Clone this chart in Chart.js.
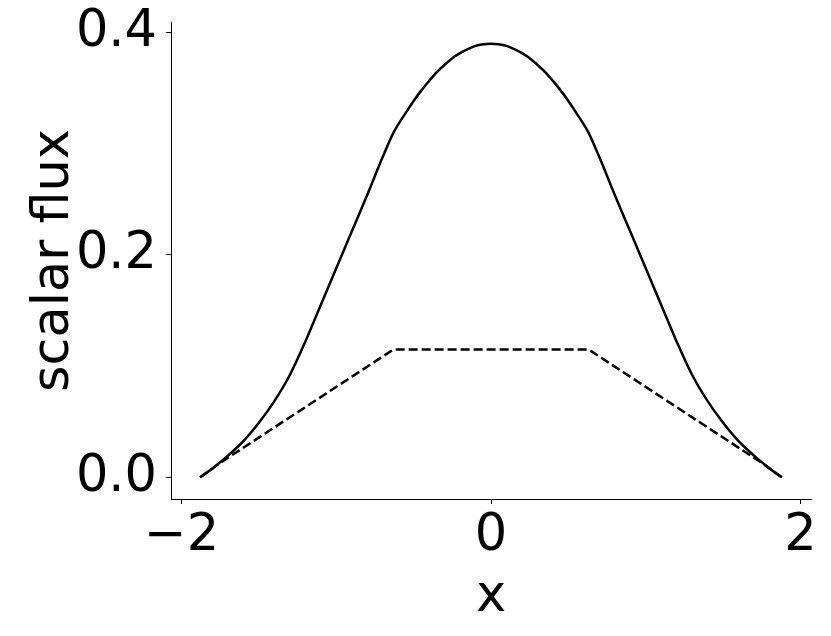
<!DOCTYPE html>
<html>
<head>
<meta charset="utf-8">
<script src="https://cdn.jsdelivr.net/npm/chart.js@4"></script>
<style>
  html, body { margin: 0; padding: 0; background: #fff; }
  #wrap { width: 831px; height: 636px; }
</style>
</head>
<body>
<div id="wrap"><canvas id="myChart" width="831" height="636"></canvas></div>
<script>
// values
var xValues = [-1.88, -1.8, -1.7, -1.6, -1.5, -1.4, -1.3, -1.2, -1.1, -1.0, -0.9, -0.8, -0.7, -0.63,
               -0.55, -0.5, -0.45, -0.4, -0.35, -0.3, -0.25, -0.2, -0.15, -0.1, -0.05, 0,
               0.05, 0.1, 0.15, 0.2, 0.25, 0.3, 0.35, 0.4, 0.45, 0.5, 0.55,
               0.63, 0.7, 0.8, 0.9, 1.0, 1.1, 1.2, 1.3, 1.4, 1.5, 1.6, 1.7, 1.8, 1.88]
var solidFlux = [0, 0.008, 0.0195, 0.0325, 0.049, 0.0685, 0.092, 0.122, 0.155, 0.188, 0.221, 0.254, 0.288, 0.310,
                 0.328, 0.3385, 0.348, 0.3565, 0.3645, 0.371, 0.377, 0.3815, 0.385, 0.388, 0.3895, 0.390,
                 0.3895, 0.388, 0.385, 0.3815, 0.377, 0.371, 0.3645, 0.3565, 0.348, 0.3385, 0.328,
                 0.310, 0.288, 0.254, 0.221, 0.188, 0.155, 0.122, 0.092, 0.0685, 0.049, 0.0325, 0.0195, 0.008, 0]

var dashX = [-1.88, -1.75, -0.63, 0, 0.63, 1.75, 1.88]
var dashFlux = [0, 0.013, 0.115, 0.115, 0.115, 0.013, 0]

var xTicks = [-2, 0, 2]
var yTicks = [0, 0.2, 0.4]

function toPoints(xs, ys) {
  var pts = []
  for (var i = 0; i < xs.length; i++) pts.push({x: xs[i], y: ys[i]})
  return pts
}

// keep the label overhang from pushing the plot area around
function noPad(s) {
  s.paddingTop = 0
  s.paddingBottom = 0
  s.paddingLeft = 0
  s.paddingRight = 0
}

var font = {family: 'DejaVu Sans', size: 51}

var ctx = document.getElementById('myChart').getContext('2d');
var chart = new Chart(ctx, {
    type: 'line',
    data: {
        datasets: [{
            data: toPoints(xValues, solidFlux),
            borderColor: '#000',
            borderWidth: 2.5,
            pointRadius: 0,
            cubicInterpolationMode: 'monotone',
            fill: false
        }, {
            data: toPoints(dashX, dashFlux),
            borderColor: '#000',
            borderWidth: 2.5,
            borderDash: [9, 4],
            pointRadius: 0,
            tension: 0,
            fill: false
        }]
    },
    options: {
        responsive: false,
        animation: false,
        events: [],
        layout: {padding: {top: 22, right: 20, left: 0, bottom: 0}},
        plugins: {legend: {display: false}, tooltip: {enabled: false}},
        scales: {
            x: {
                type: 'linear',
                min: -2.068,
                max: 2.068,
                afterBuildTicks: function (s) { s.ticks = xTicks.map(function (v) { return {value: v} }) },
                afterFit: function (s) { s.height = 137; noPad(s) },
                ticks: {
                    color: '#000',
                    font: font,
                    padding: 2,
                    maxRotation: 0,
                    callback: function (v) { return v < 0 ? '\u2212' + Math.abs(v) : String(v) }
                },
                grid: {drawOnChartArea: false, drawTicks: true, tickLength: 5, color: '#000', tickWidth: 1},
                border: {display: true, color: '#000', width: 1},
                title: {display: true, text: 'x', color: '#000', font: font, padding: {top: 0, bottom: 8}}
            },
            y: {
                type: 'linear',
                min: -0.0195,
                max: 0.4095,
                afterBuildTicks: function (s) { s.ticks = yTicks.map(function (v) { return {value: v} }) },
                afterFit: function (s) { s.width = 171; noPad(s) },
                ticks: {
                    color: '#000',
                    font: font,
                    padding: 9,
                    callback: function (v) { return v.toFixed(1) }
                },
                grid: {drawOnChartArea: false, drawTicks: true, tickLength: 5, color: '#000', tickWidth: 1},
                border: {display: true, color: '#000', width: 1},
                title: {display: true, text: 'scalar flux', color: '#000', font: font, padding: {top: 24, bottom: 0}}
            }
        }
    }
});
</script>
</body>
</html>
